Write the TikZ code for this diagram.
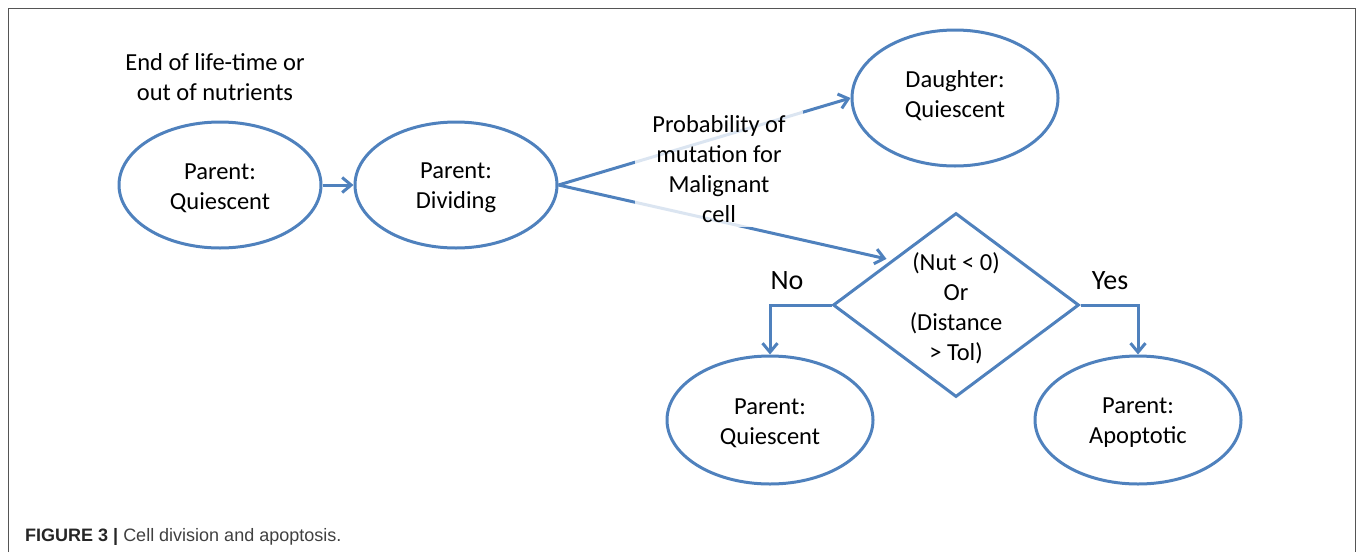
\documentclass[tikz,border=0pt]{standalone}
\usepackage{fontspec}
\setmainfont{Carlito}
\newfontfamily\capfont{Liberation Sans}
\usetikzlibrary{shapes.geometric,arrows.meta,calc}
\definecolor{obl}{HTML}{4F81BD}
\definecolor{frm}{HTML}{555555}
\begin{document}
\begin{tikzpicture}[x=1pt,y=-1pt,
  cell/.style={ellipse,draw=obl,line width=3pt,minimum width=202pt,minimum height=126pt,inner sep=0pt,align=center,font=\fontsize{24.5}{30}\selectfont},
  lbl/.style={align=center,font=\fontsize{24.5}{30}\selectfont},
  big/.style={font=\fontsize{28}{30}\selectfont},
  conn/.style={draw=obl,line width=3pt,-{Straight Barb[length=9pt,width=15pt,line width=3pt]}}]
\useasboundingbox (0,0) rectangle (1357,552);
\draw[frm,line width=1.3pt] (8.5,552) -- (8.5,8.5) -- (1355.5,8.5) -- (1355.5,552);
\node[lbl] (note) at (215,77) {End of life-time or\\out of nutrients};
\node[cell] (pq) at (220,185) {};
\node[lbl] (pqt) at (220,188) {Parent:\\Quiescent};
\node[cell] (pd) at (456,185) {};
\node[lbl] (pdt) at (456,188) {Parent:\\Dividing};
\node[cell,minimum width=206pt,minimum height=136pt] (dq) at (955,98) {};
\node[lbl] (dqt) at (955,96) {Daughter:\\Quiescent};
\node[diamond,draw=obl,line width=3pt,minimum width=246pt,minimum height=184pt,inner sep=0pt,aspect=1.34] (dm) at (956,305) {};
\node[lbl] (cond) at (956,308) {(Nut {<} 0)\\Or\\(Distance\\{>} Tol)};
\node[cell,minimum width=206pt,minimum height=128pt] (pq2) at (770,420) {};
\node[lbl] (pq2t) at (770,423) {Parent:\\Quiescent};
\node[cell,minimum width=206pt,minimum height=128pt] (pa) at (1138,420) {};
\node[lbl] (pat) at (1138,423) {Parent:\\Apoptotic};
\coordinate (dmin) at ($(dm.west)!0.45!(dm.north)+(-1,-4)$);
\draw[conn] (pq.east) -- (pd.west);
\draw[conn] (pd.east) -- (dq.west);
\draw[conn] (pd.east) -- (dmin);
\draw[conn] (dm.west) -| (pq2.north);
\draw[conn] (dm.east) -| (pa.north);
\node[lbl,fill=white,fill opacity=0.8,text opacity=1,inner sep=4pt,minimum width=168pt] (prob) at (719,169) {Probability of\\mutation for\\Malignant\\cell};
\node[big] (no) at (787,281) {No};
\node[big] (yes) at (1110,281) {Yes};
\node[anchor=base west,inner sep=0pt,font=\capfont\fontsize{18}{20}\selectfont] (cap) at (25,541) {\textcolor{black!85}{\bfseries FIGURE 3 |} \textcolor{black!75}{Cell division and apoptosis.}};
\end{tikzpicture}
\end{document}
